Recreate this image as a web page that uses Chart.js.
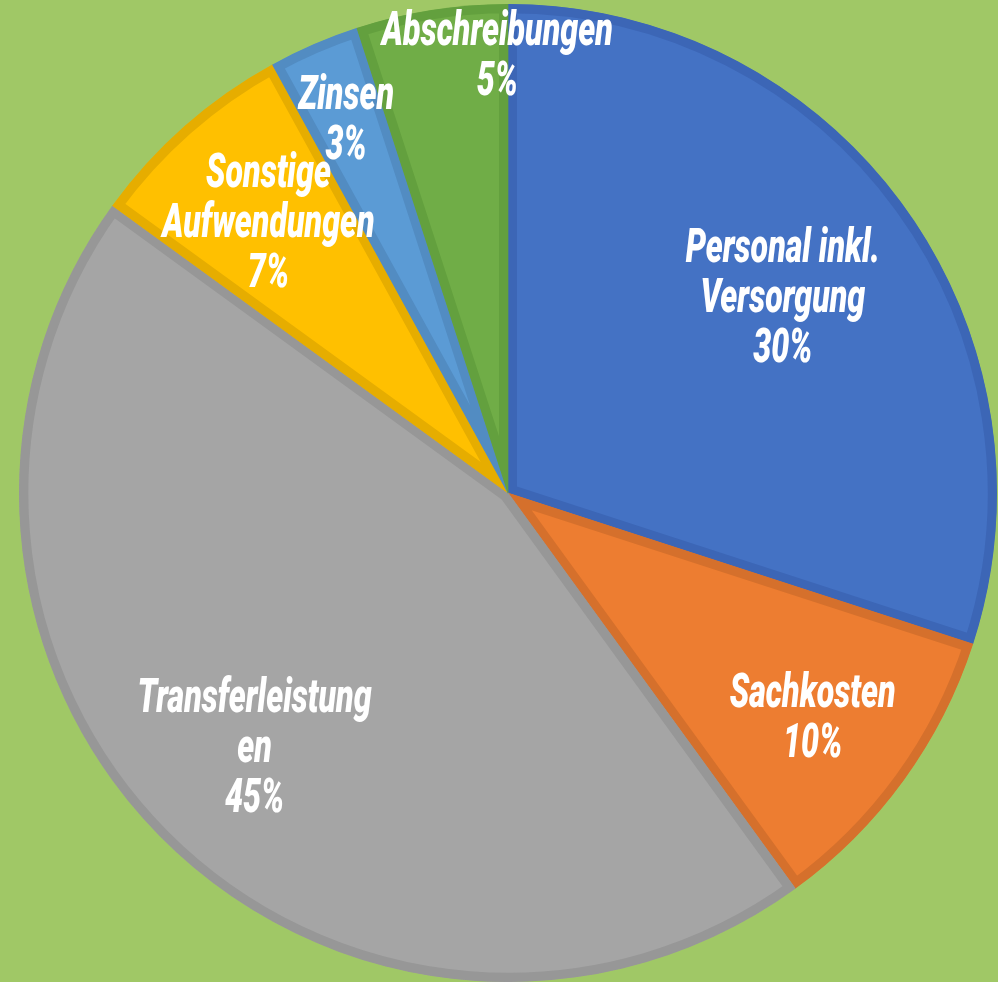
<!DOCTYPE html>
<html>
<head>
<meta charset="utf-8">
<script src="https://cdn.jsdelivr.net/npm/chart.js@4/dist/chart.umd.min.js"></script>
<style>
  html, body { margin: 0; padding: 0; background: #a0c866; }
  #wrap { width: 998px; height: 982px; }
</style>
</head>
<body>
<div id="wrap"><canvas id="chart"></canvas></div>
<script>
'use strict';

// Aufwendungen (Anteile in %)
const categories = ['Personal inkl. Versorgung', 'Sachkosten', 'Transferleistungen', 'Sonstige Aufwendungen', 'Zinsen', 'Abschreibungen'];
const shares = [30, 10, 45, 7, 3, 5];
// label text as wrapped in the picture
const labelLines = [
  ['Personal inkl.', 'Versorgung'],
  ['Sachkosten'],
  ['Transferleistung', 'en'],
  ['Sonstige', 'Aufwendungen'],
  ['Zinsen'],
  ['Abschreibungen']
];

const fillColors = ['#4472c4', '#ed7d31', '#a5a5a5', '#ffc000', '#5b9bd5', '#70ad47'];
const edgeColors = ['#3c66b6', '#d5702c', '#979797', '#e6ad00', '#528cc2', '#63a03e'];

// label anchor: angle from 12 o'clock (deg, clockwise) and fraction of radius
const labelAngle = [54.9, 126.7, 224.6, 318.2, 336.4, 358.6];
const labelDist = [0.687, 0.777, 0.738, 0.735, 0.827, 0.89];

const labelPlugin = {
  id: 'sliceLabels',
  afterDatasetsDraw(chart) {
    const ctx = chart.ctx;
    const arcs = chart.getDatasetMeta(0).data;
    const total = shares.reduce((a, b) => a + b, 0);
    ctx.save();
    ctx.fillStyle = '#ffffff';
    ctx.font = 'italic 900 48px Roboto';
    ctx.textAlign = 'center';
    ctx.textBaseline = 'middle';
    const lineH = 50;
    arcs.forEach((arc, i) => {
      const lines = labelLines[i].concat([Math.round(shares[i] / total * 100) + '%']);
      const a = labelAngle[i] * Math.PI / 180;
      const r = arc.outerRadius * labelDist[i];
      const cx = arc.x + Math.sin(a) * r;
      const cy = arc.y - Math.cos(a) * r;
      lines.forEach((t, j) => {
        const y = cy + (j - (lines.length - 1) / 2) * lineH;
        ctx.save();
        ctx.translate(cx, y);
        ctx.scale(0.67, 1);
        ctx.fillText(t, 0, 0);
        ctx.restore();
      });
    });
    ctx.restore();
  }
};

const data = {
  labels: categories,
  datasets: [{
    data: shares,
    backgroundColor: fillColors,
    borderColor: edgeColors,
    borderWidth: 9,
    borderAlign: 'inner'
  }]
};

const config = {
  type: 'pie',
  data: data,
  options: {
    responsive: true,
    maintainAspectRatio: false,
    animation: false,
    layout: { padding: { left: 19, right: 1, top: 4, bottom: 0 } },
    plugins: {
      legend: { display: false },
      tooltip: { enabled: false }
    }
  },
  plugins: [labelPlugin]
};

const myChart = new Chart(document.getElementById('chart'), config);
</script>
</body>
</html>
